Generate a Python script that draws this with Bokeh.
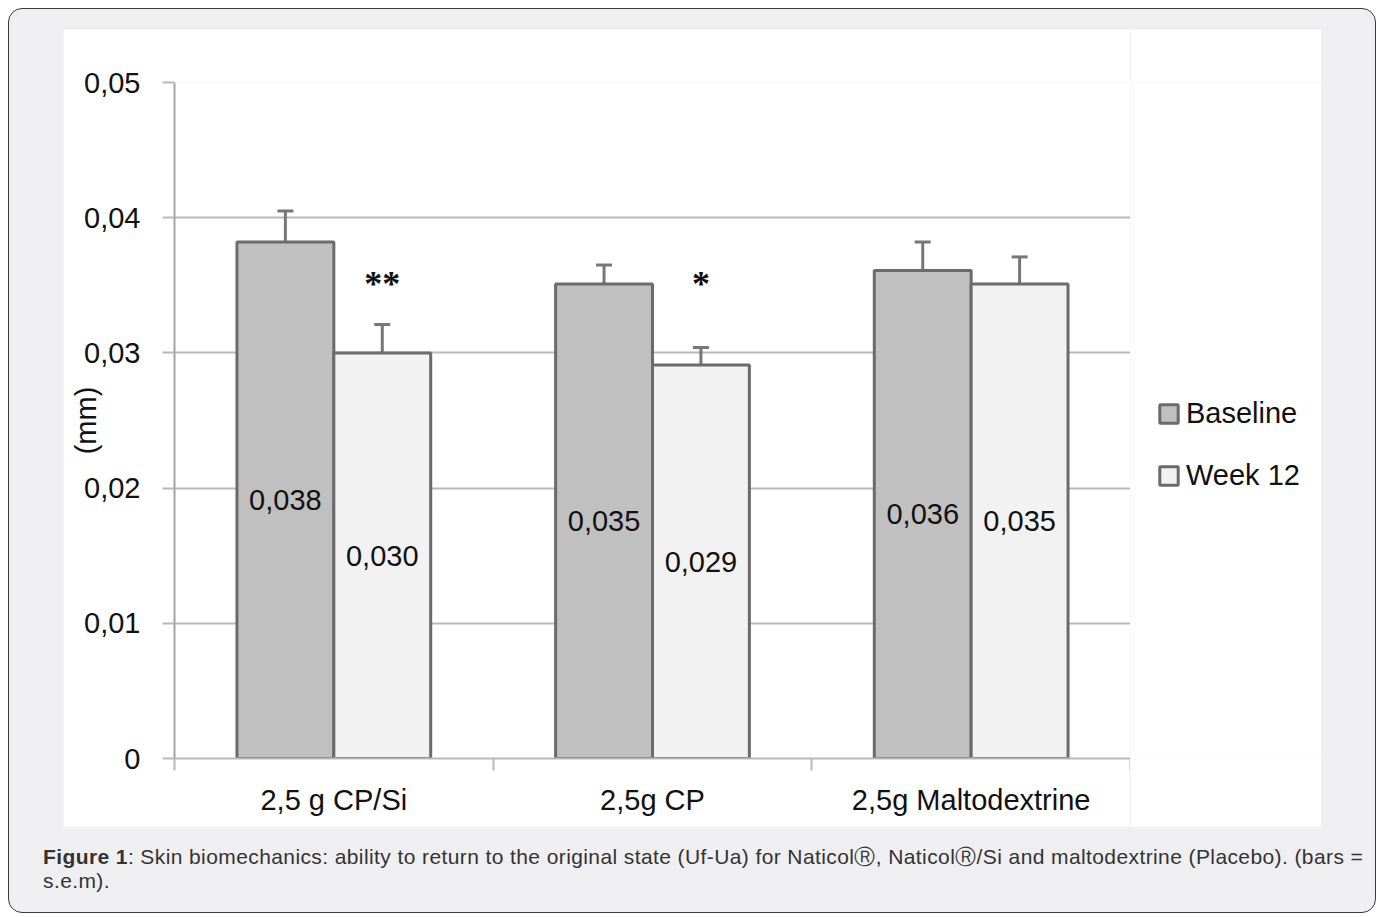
from bokeh.plotting import figure
from bokeh.models import (Range1d, FixedTicker, CustomJSTickFormatter, Whisker, TeeHead,
                          ColumnDataSource, Legend, LegendItem, Div)
from bokeh.layouts import column, row
from bokeh.core.properties import value
from bokeh.embed import file_html
from bokeh.resources import INLINE

# ---------------- data ----------------
categories = ["2,5 g CP/Si", "2,5g CP", "2,5g Maltodextrine"]
baseline = [0.0382, 0.0351, 0.0361]
baseline_sem = [0.0023, 0.0014, 0.0021]
week12 = [0.0300, 0.0291, 0.0351]
week12_sem = [0.0021, 0.0013, 0.0020]
baseline_labels = ["0,038", "0,035", "0,036"]
week12_labels = ["0,030", "0,029", "0,035"]
significance = ["**", "*", ""]
star_level = 0.0351
y_ticks = [0, 0.01, 0.02, 0.03, 0.04, 0.05]
series_names = ["Baseline", "Week 12"]

FONT = "Liberation Sans"
FS = "29px"
half = 0.152
barw = 0.304
BASE_FILL, WEEK_FILL, EDGE = "#c0c0c0", "#f2f2f2", "#6b6b6b"

centers = [i + 0.5 for i in range(len(categories))]
src_b = ColumnDataSource(dict(
    x=[c - half for c in centers], top=baseline,
    up=[v + s for v, s in zip(baseline, baseline_sem)],
    mid=[v / 2 for v in baseline], lab=baseline_labels))
src_w = ColumnDataSource(dict(
    x=[c + half for c in centers], top=week12,
    up=[v + s for v, s in zip(week12, week12_sem)],
    mid=[v / 2 for v in week12], lab=week12_labels,
    star=significance, sy=[star_level] * len(week12)))

p = figure(width=1067, height=798, output_backend="svg", toolbar_location=None,
           x_range=Range1d(0, len(categories)), y_range=Range1d(0, 0.05),
           min_border_left=111, min_border_right=0, min_border_top=53,
           min_border_bottom=69)
p.margin = (20, 0, 0, 54)
p.background_fill_color = "white"
p.border_fill_color = "white"
p.outline_line_color = None
p.xgrid.grid_line_color = None
p.ygrid.grid_line_color = "#b9b9b9"
p.ygrid.grid_line_width = 2

# y axis
p.yaxis.ticker = FixedTicker(ticks=y_ticks)
p.yaxis.formatter = CustomJSTickFormatter(
    code="return tick == 0 ? '0' : tick.toFixed(2).replace('.', ',');")
p.yaxis.axis_line_color = "#a3a3a3"
p.yaxis.axis_line_width = 2
p.yaxis.major_tick_line_color = "#b9b9b9"
p.yaxis.major_tick_line_width = 2
p.yaxis.major_tick_in = 0
p.yaxis.major_tick_out = 12
p.yaxis.minor_tick_line_color = None
p.yaxis.major_label_standoff = 22
p.yaxis.major_label_text_font = FONT
p.yaxis.major_label_text_font_size = FS
p.yaxis.major_label_text_color = "#111111"
p.yaxis.axis_label = "(mm)"
p.yaxis.axis_label_text_font = FONT
p.yaxis.axis_label_text_font_size = FS
p.yaxis.axis_label_text_font_style = "normal"
p.yaxis.axis_label_text_color = "#111111"
p.yaxis.axis_label_standoff = -21

# x axis
p.xaxis.ticker = FixedTicker(ticks=centers, minor_ticks=list(range(len(categories) + 1)))
p.xaxis.formatter = CustomJSTickFormatter(args=dict(cats=categories),
                                          code="return cats[Math.floor(tick)];")
p.xaxis.axis_line_color = "#b9b9b9"
p.xaxis.axis_line_width = 2
p.xaxis.major_tick_line_color = None
p.xaxis.major_tick_out = 0
p.xaxis.major_tick_in = 0
p.xaxis.minor_tick_line_color = "#b9b9b9"
p.xaxis.minor_tick_line_width = 2
p.xaxis.minor_tick_in = 0
p.xaxis.minor_tick_out = 12
p.xaxis.major_label_standoff = 13
p.xaxis.major_label_text_font = FONT
p.xaxis.major_label_text_font_size = FS
p.xaxis.major_label_text_color = "#111111"

# bars
p.vbar(x="x", top="top", bottom=0, width=barw, source=src_b,
       fill_color=BASE_FILL, line_color=EDGE, line_width=3)
p.vbar(x="x", top="top", bottom=0, width=barw, source=src_w,
       fill_color=WEEK_FILL, line_color=EDGE, line_width=3)

for src in (src_b, src_w):
    w = Whisker(base="x", upper="up", lower="top", source=src,
                line_color="#777777", line_width=3,
                upper_head=TeeHead(size=16, line_color="#777777", line_width=3),
                lower_head=None)
    p.add_layout(w)
    p.text(x="x", y="mid", text="lab", source=src, text_align="center",
           text_baseline="middle", text_font=value(FONT), text_font_size=FS,
           text_color="#111111")

p.text(x="x", y="sy", text="star", source=src_w, text_align="center",
       text_baseline="middle", text_font=value("Liberation Serif"),
       text_font_size="36px", text_font_style="bold", text_color="#111111")

# legend panel (separate white strip to the right of the plot frame);
# swatch renderers carry only NaN so they draw nothing in the strip itself
NAN = float("nan")
pl = figure(width=191, height=798, output_backend="svg", toolbar_location=None,
            x_range=Range1d(0, len(categories)), y_range=Range1d(0, 0.05),
            x_axis_location=None, y_axis_location=None,
            min_border_left=0, min_border_right=0, min_border_top=0, min_border_bottom=0)
pl.margin = (20, 0, 0, 0)
pl.background_fill_color = "white"
pl.border_fill_color = "white"
pl.outline_line_color = None
pl.grid.grid_line_color = None
lb = pl.vbar(x=[NAN], top=[NAN], bottom=0, width=barw,
             fill_color=BASE_FILL, line_color=EDGE, line_width=3)
lw = pl.vbar(x=[NAN], top=[NAN], bottom=0, width=barw,
             fill_color=WEEK_FILL, line_color=EDGE, line_width=3)
legend = Legend(items=[LegendItem(label=series_names[0], renderers=[lb]),
                       LegendItem(label=series_names[1], renderers=[lw])],
                location=(27, 266), orientation="vertical",
                label_text_font=FONT, label_text_font_size=FS,
                label_text_color="#111111", glyph_width=23, glyph_height=23,
                label_standoff=6, spacing=29, padding=0, margin=0,
                border_line_color=None, background_fill_alpha=0)
pl.add_layout(legend)

caption = Div(
    text=('<b>Figure 1</b>: Skin biomechanics: ability to return to the original state '
          '(Uf-Ua) for Naticol\u24c7, Naticol\u24c7/Si and maltodextrine (Placebo). (bars =<br>s.e.m).'),
    width=1340, margin=(18, 0, 0, 34),
    styles={"font-family": "Liberation Sans, Arial, sans-serif", "font-size": "21px",
            "letter-spacing": "0.4px", "line-height": "24px", "color": "#333333",
            "white-space": "nowrap"})

layout = column(row(p, pl), caption, width=1368, height=905, margin=(8, 0, 0, 8),
                styles={"background-color": "#efeff1", "border": "1px solid #3a3a3a",
                        "border-radius": "14px"})

open("out.html", "w").write(file_html(layout, INLINE))
